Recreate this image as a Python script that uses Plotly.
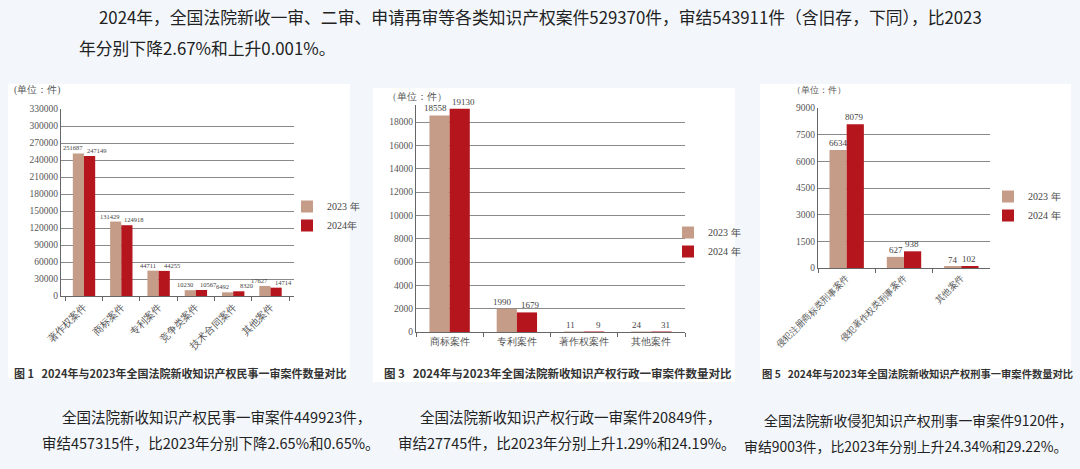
import plotly.graph_objects as go

# ---------------- data ----------------
cats1 = ["著作权案件", "商标案件", "专利案件", "竞争类案件", "技术合同案件", "其他案件"]
civil_2023 = [251687, 131429, 44711, 10230, 6492, 17627]
civil_2024 = [247149, 124918, 44255, 10567, 8320, 14714]
ticks1 = [0, 30000, 60000, 90000, 120000, 150000, 180000, 210000, 240000, 270000, 300000, 330000]

cats3 = ["商标案件", "专利案件", "著作权案件", "其他案件"]
admin_2023 = [18558, 1990, 11, 24]
admin_2024 = [19130, 1679, 9, 31]
ticks3 = [0, 2000, 4000, 6000, 8000, 10000, 12000, 14000, 16000, 18000]

cats5 = ["侵犯注册商标类刑事案件", "侵犯著作权类刑事案件", "其他案件"]
crim_2023 = [6634, 627, 74]
crim_2024 = [8079, 938, 102]
ticks5 = [0, 1500, 3000, 4500, 6000, 7500, 9000]

series_names = [["2023 年", "2024年"], ["2023 年", "2024 年"], ["2023 年", "2024 年"]]

top_line1 = "2024年，全国法院新收一审、二审、申请再审等各类知识产权案件529370件，审结543911件（含旧存，下同），比2023"
top_line2 = "年分别下降2.67%和上升0.001%。"
captions = ["图 1   2024年与2023年全国法院新收知识产权民事一审案件数量对比",
            "图 3   2024年与2023年全国法院新收知识产权行政一审案件数量对比",
            "图 5   2024年与2023年全国法院新收知识产权刑事一审案件数量对比"]
bottom = [("全国法院新收知识产权民事一审案件449923件，", "审结457315件，比2023年分别下降2.65%和0.65%。"),
          ("全国法院新收知识产权行政一审案件20849件，", "审结27745件，比2023年分别上升1.29%和24.19%。"),
          ("全国法院新收侵犯知识产权刑事一审案件9120件，", "审结9003件，比2023年分别上升24.34%和29.22%。")]

# ---------------- style ----------------
W, H = 1080, 469
BG = "#f3f7fc"
C23 = "#c59c87"
C24 = "#b5151d"
SERIF = "Liberation Serif, DejaVu Serif, serif"
CJK = "Noto Sans CJK SC, Noto Sans, sans-serif"
GRID = "#8a8a8a"


def px(x):
    return x / W


def py(y):
    return 1 - y / H


fig = go.Figure()

charts = [
    dict(cats=cats1, a=civil_2023, b=civil_2024, ax="x", ay="y", leg="legend"),
    dict(cats=cats3, a=admin_2023, b=admin_2024, ax="x2", ay="y2", leg="legend2"),
    dict(cats=cats5, a=crim_2023, b=crim_2024, ax="x3", ay="y3", leg="legend3"),
]

for i, c in enumerate(charts):
    for vals, col, name in [(c["a"], C23, series_names[i][0]), (c["b"], C24, series_names[i][1])]:
        fig.add_trace(go.Bar(x=c["cats"], y=vals, name=name, marker=dict(color=col, line=dict(width=0)),
                             xaxis=c["ax"], yaxis=c["ay"], legend=c["leg"], showlegend=True,
                             hoverinfo="x+y"))

# data labels from the data arrays
lab_cfg = [(civil_2023, civil_2024, cats1, "x", "y", -11, 13, 6.5),
           (admin_2023, admin_2024, cats3, "x2", "y2", -14, 14, 9),
           (crim_2023, crim_2024, cats5, "x3", "y3", -8, 8, 9)]
annotations = []
for a, b, cats, xr, yr, s1, s2, fs in lab_cfg:
    for vals, sh in [(a, s1), (b, s2)]:
        for cat, v in zip(cats, vals):
            annotations.append(dict(x=cat, y=v, xref=xr, yref=yr, text=str(v), showarrow=False,
                                    xshift=sh, yanchor="bottom", yshift=0,
                                    font=dict(family=SERIF, size=fs, color="#444")))

# panels
shapes = []
for x0, y0, x1, y1 in [(8, 84, 350, 378), (373, 88, 735, 382), (760, 84, 1071, 378)]:
    shapes.append(dict(type="rect", xref="paper", yref="paper", x0=px(x0), x1=px(x1),
                       y0=py(y1), y1=py(y0), fillcolor="white", line=dict(width=0), layer="below"))


# texts
def txt(x, y, s, size, color="#222", family=CJK, bold=False, anchor="left"):
    annotations.append(dict(x=px(x), y=py(y), xref="paper", yref="paper", text=("<b>%s</b>" % s) if bold else s,
                            showarrow=False, xanchor=anchor, yanchor="middle",
                            font=dict(family=family, size=size, color=color)))


txt(97, 17, top_line1, 16.8, "#222")
txt(77, 48, top_line2, 16.8, "#222")
txt(12, 373, captions[0], 11, "#333", bold=True)
txt(382, 373, captions[1], 11.5, "#333", bold=True)
txt(760, 373, captions[2], 10.3, "#333", bold=True)
txt(12, 90, "(单位：件)", 9.5, "#555", family=SERIF)
txt(385, 96, "（单位：件）", 10, "#555", family=SERIF)
txt(790, 90, "（单位：件）", 9, "#555", family=SERIF)
txt(60, 416, bottom[0][0], 14.5)
txt(40, 442, bottom[0][1], 14.5)
txt(418, 416, bottom[1][0], 14.5)
txt(396, 442, bottom[1][1], 14.5)
txt(762, 420, bottom[2][0], 13.9)
txt(742, 446, bottom[2][1], 13.9)


def yax(domain, anchor, rng, tv):
    return dict(domain=domain, anchor=anchor, range=rng, tickvals=tv, ticktext=[str(t) for t in tv],
                showgrid=True, gridcolor=GRID, gridwidth=1, zeroline=False, automargin=False,
                showline=True, linecolor="#666", linewidth=1, ticks="",
                tickfont=dict(family=SERIF, size=9.5, color="#555"), fixedrange=True)


def xax(domain, anchor, angle, size):
    return dict(domain=domain, anchor=anchor, type="category", showline=True, linecolor="#666", linewidth=1,
                ticks="outside", ticklen=4, tickcolor="#666", tickson="boundaries", tickangle=angle,
                automargin=False,
                tickfont=dict(family=SERIF, size=size, color="#555"), showgrid=False, fixedrange=True)


leg_common = dict(xanchor="left", yanchor="top", bgcolor="rgba(0,0,0,0)", itemwidth=30,
                  font=dict(family=SERIF, size=10, color="#444"), traceorder="normal",
                  itemclick=False, itemdoubleclick=False)

fig.update_layout(
    width=W, height=H, margin=dict(l=0, r=0, t=0, b=0, autoexpand=False),
    paper_bgcolor=BG, plot_bgcolor="rgba(0,0,0,0)",
    barmode="group", bargap=0.4, bargroupgap=0,
    shapes=shapes, annotations=annotations,
    xaxis=xax([px(61), px(294)], "y", -45, 10),
    yaxis=yax([py(296), py(109)], "x", [0, 330000], ticks1),
    xaxis2=xax([px(416), px(685)], "y2", 0, 10),
    yaxis2=yax([py(332), py(332 - 210 * 19500 / 18000)], "x2", [0, 19500], ticks3),
    xaxis3=xax([px(818), px(990)], "y3", -45, 9),
    yaxis3=yax([py(268), py(108)], "x3", [0, 9000], ticks5),
    legend=dict(x=px(287), y=py(192), **leg_common),
    legend2=dict(x=px(668), y=py(218), **leg_common),
    legend3=dict(x=px(988), y=py(182), **leg_common),
    showlegend=True,
)

fig.write_html("out.html", config={"displayModeBar": False},
               post_script="document.body.style.margin='0';document.body.style.background='%s';" % BG)
